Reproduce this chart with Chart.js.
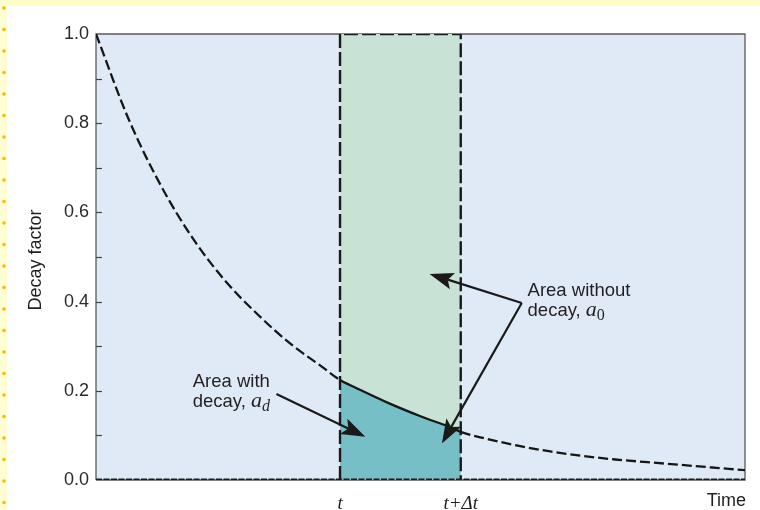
<!DOCTYPE html>
<html>
<head>
<meta charset="utf-8">
<script src="https://cdn.jsdelivr.net/npm/chart.js@4/dist/chart.umd.min.js"></script>
<style>
  html, body { margin: 0; padding: 0; background: #ffffff; overflow: hidden; }
  canvas { display: block; }
</style>
</head>
<body>
<canvas id="decayChart" width="760" height="510"></canvas>
<script>
// Time axis samples and the decay factor at each of them
const timeX = [0, 0.5, 1, 1.5, 2, 2.5, 3, 3.5, 3.76, 4, 4.5, 5, 5.5, 5.62, 6, 6.5, 7, 7.5, 8, 8.5, 9, 9.5, 10];
const decayFactor = [1.0, 0.81, 0.66, 0.54, 0.445, 0.37, 0.305, 0.252, 0.224, 0.207, 0.173, 0.143, 0.116, 0.108, 0.093, 0.077, 0.064, 0.054, 0.046, 0.04, 0.034, 0.028, 0.022];

// The interval [t, t+Δt] and the undecayed level over it
const windowStart = 3.76;
const windowEnd = 5.62;
const undecayedLevel = 1.0;

// Axis ticks
const yMajorTicks = [0, 0.2, 0.4, 0.6, 0.8, 1.0];
const yMinorTicks = [0.1, 0.3, 0.5, 0.7, 0.9];
const xTickValues = [windowStart, windowEnd];
const xTickLabels = ['t', 't+Δt'];

const TEXT = '#231f20';
const SANS = "'Liberation Sans', Arial, sans-serif";
const SERIF = "'Liberation Serif', 'Times New Roman', serif";

// Points of the decay curve that fall inside the interval
const windowCurve = timeX
  .map((x, i) => ({ x, y: decayFactor[i] }))
  .filter(p => p.x >= windowStart - 1e-9 && p.x <= windowEnd + 1e-9);

// Callout notes, anchored in data units
const notes = [
  { lines: ['Area with', 'decay, '], sym: 'a', sub: 'd', subItalic: true, at: { x: 1.49, y: 0.209 },
    arrows: [{ from: { x: 2.78, y: 0.193 }, to: { x: 4.15, y: 0.097 } }] },
  { lines: ['Area without', 'decay, '], sym: 'a', sub: '0', subItalic: false, at: { x: 6.65, y: 0.412 },
    arrows: [{ from: { x: 6.56, y: 0.397 }, to: { x: 5.14, y: 0.462 } },
             { from: { x: 6.56, y: 0.397 }, to: { x: 5.33, y: 0.082 } }] }
];

const pagePlugin = {
  id: 'page',
  beforeDraw(chart) {
    const { ctx, width, height, chartArea: a, scales } = chart;
    ctx.save();
    ctx.fillStyle = '#ffffff';
    ctx.fillRect(0, 0, width, height);
    // page margin strips
    ctx.fillStyle = '#fffcc8';
    ctx.fillRect(0, 0, width, 6);
    ctx.fillStyle = '#fffdd2';
    ctx.fillRect(0, 0, 7, height);
    ctx.fillStyle = '#f7b90a';
    for (let y = 8; y < height; y += 21.5) {
      ctx.beginPath();
      ctx.arc(4, y, 1.8, 0, Math.PI * 2);
      ctx.fill();
    }
    // plot background
    ctx.fillStyle = '#e0eaf6';
    ctx.fillRect(a.left, a.top, a.right - a.left, a.bottom - a.top);
    // frame
    ctx.lineWidth = 1.3;
    ctx.strokeStyle = '#5a5a5a';
    ctx.beginPath();
    ctx.moveTo(a.left, a.bottom);
    ctx.lineTo(a.left, a.top);
    ctx.lineTo(a.right, a.top);
    ctx.lineTo(a.right, a.bottom);
    ctx.lineTo(a.left, a.bottom);
    ctx.stroke();
    // inward tick marks on the value axis
    const ys = scales.y;
    ctx.lineWidth = 1.2;
    ctx.strokeStyle = '#444';
    [...yMajorTicks, ...yMinorTicks].forEach(v => {
      if (v === 0 || v === 1) return;
      const py = Math.round(ys.getPixelForValue(v)) + 0.5;
      ctx.beginPath();
      ctx.moveTo(a.left, py);
      ctx.lineTo(a.left + 6, py);
      ctx.stroke();
    });
    ctx.restore();
  },
  afterDraw(chart) {
    const { ctx, chartArea: a, scales } = chart;
    const xs = scales.x, ys = scales.y;
    ctx.save();
    // axis titles
    ctx.fillStyle = TEXT;
    ctx.font = `18px ${SANS}`;
    ctx.textAlign = 'right';
    ctx.textBaseline = 'alphabetic';
    ctx.fillText('Time', a.right + 1, 506);
    ctx.save();
    ctx.translate(41, (a.top + a.bottom) / 2 + 3);
    ctx.rotate(-Math.PI / 2);
    ctx.textAlign = 'center';
    ctx.fillText('Decay factor', 0, 0);
    ctx.restore();

    // callouts
    notes.forEach(n => {
      n.arrows.forEach(ar => {
        const x0 = xs.getPixelForValue(ar.from.x), y0 = ys.getPixelForValue(ar.from.y);
        const x1 = xs.getPixelForValue(ar.to.x), y1 = ys.getPixelForValue(ar.to.y);
        const ang = Math.atan2(y1 - y0, x1 - x0);
        const headLen = 24, headHalf = 8.5, notch = 5;
        const bx = x1 - headLen * Math.cos(ang), by = y1 - headLen * Math.sin(ang);
        const nx = bx + notch * Math.cos(ang), ny = by + notch * Math.sin(ang);
        ctx.strokeStyle = '#1a1a1a';
        ctx.lineWidth = 2.2;
        ctx.beginPath();
        ctx.moveTo(x0, y0);
        ctx.lineTo(nx, ny);
        ctx.stroke();
        ctx.fillStyle = '#1a1a1a';
        ctx.beginPath();
        ctx.moveTo(x1, y1);
        ctx.lineTo(bx + headHalf * Math.sin(ang), by - headHalf * Math.cos(ang));
        ctx.lineTo(nx, ny);
        ctx.lineTo(bx - headHalf * Math.sin(ang), by + headHalf * Math.cos(ang));
        ctx.closePath();
        ctx.fill();
      });
      const tx = xs.getPixelForValue(n.at.x), ty = ys.getPixelForValue(n.at.y);
      ctx.fillStyle = TEXT;
      ctx.textAlign = 'left';
      ctx.textBaseline = 'alphabetic';
      ctx.font = `18.5px ${SANS}`;
      ctx.fillText(n.lines[0], tx, ty);
      const ly = ty + 20;
      ctx.fillText(n.lines[1], tx, ly);
      let cx = tx + ctx.measureText(n.lines[1]).width;
      ctx.font = `italic 22px ${SERIF}`;
      ctx.fillText(n.sym, cx, ly);
      cx += ctx.measureText(n.sym).width;
      ctx.font = `${n.subItalic ? 'italic ' : ''}16px ${SERIF}`;
      ctx.fillText(n.sub, cx, ly + 4);
    });
    ctx.restore();
  }
};

new Chart(document.getElementById('decayChart'), {
  type: 'line',
  data: {
    datasets: [
      { // decay curve: solid across the interval, dashed elsewhere
        data: timeX.map((x, i) => ({ x, y: decayFactor[i] })),
        borderColor: '#161616',
        borderWidth: 2.3,
        borderDash: [10, 4],
        segment: {
          borderDash: c => (c.p0.parsed.x >= windowStart - 1e-9 && c.p1.parsed.x <= windowEnd + 1e-9) ? [] : [10, 4]
        },
        pointRadius: 0,
        fill: false,
        cubicInterpolationMode: 'monotone'
      },
      { // time axis baseline
        data: [{ x: timeX[0], y: 0 }, { x: timeX[timeX.length - 1], y: 0 }],
        borderColor: '#1c1c1c',
        borderWidth: 2.8,
        borderDash: [6, 1.5],
        pointRadius: 0,
        fill: false
      },
      { // outline of the undecayed block
        data: [{ x: windowStart, y: 0 }, { x: windowStart, y: undecayedLevel },
               { x: windowEnd, y: undecayedLevel }, { x: windowEnd, y: 0 }],
        borderColor: '#1a1a1a',
        borderWidth: 2.4,
        borderDash: [14, 4],
        pointRadius: 0,
        fill: false
      },
      { // area with decay
        data: windowCurve,
        borderWidth: 0,
        borderColor: 'rgba(0,0,0,0)',
        backgroundColor: '#77bfc6',
        pointRadius: 0,
        fill: 'origin',
        cubicInterpolationMode: 'monotone'
      },
      { // area without decay
        data: [{ x: windowStart, y: undecayedLevel }, { x: windowEnd, y: undecayedLevel }],
        borderWidth: 0,
        borderColor: 'rgba(0,0,0,0)',
        backgroundColor: '#c8e3d6',
        pointRadius: 0,
        fill: 'origin'
      }
    ]
  },
  options: {
    responsive: false,
    animation: false,
    events: [],
    devicePixelRatio: 1,
    layout: { padding: { top: 34, right: 15, left: 0, bottom: 0 } },
    plugins: { legend: { display: false }, tooltip: { enabled: false } },
    scales: {
      x: {
        type: 'linear',
        min: timeX[0],
        max: timeX[timeX.length - 1],
        grid: { display: false, drawTicks: false },
        border: { display: false },
        afterBuildTicks: s => { s.ticks = xTickValues.map(v => ({ value: v })); },
        afterFit: s => { s.height = 30; },
        ticks: {
          padding: 13,
          maxRotation: 0,
          autoSkip: false,
          color: TEXT,
          font: { family: SERIF, size: 19, style: 'italic' },
          callback: (v, i) => xTickLabels[i]
        }
      },
      y: {
        type: 'linear',
        min: 0,
        max: 1,
        grid: { display: false, drawTicks: false },
        border: { display: false },
        afterBuildTicks: s => { s.ticks = yMajorTicks.map(v => ({ value: v })); },
        afterFit: s => { s.width = 96; },
        ticks: {
          padding: 7,
          color: '#2b2b2b',
          font: { family: SANS, size: 18 },
          callback: v => Number(v).toFixed(1)
        }
      }
    }
  },
  plugins: [pagePlugin]
});
</script>
</body>
</html>
